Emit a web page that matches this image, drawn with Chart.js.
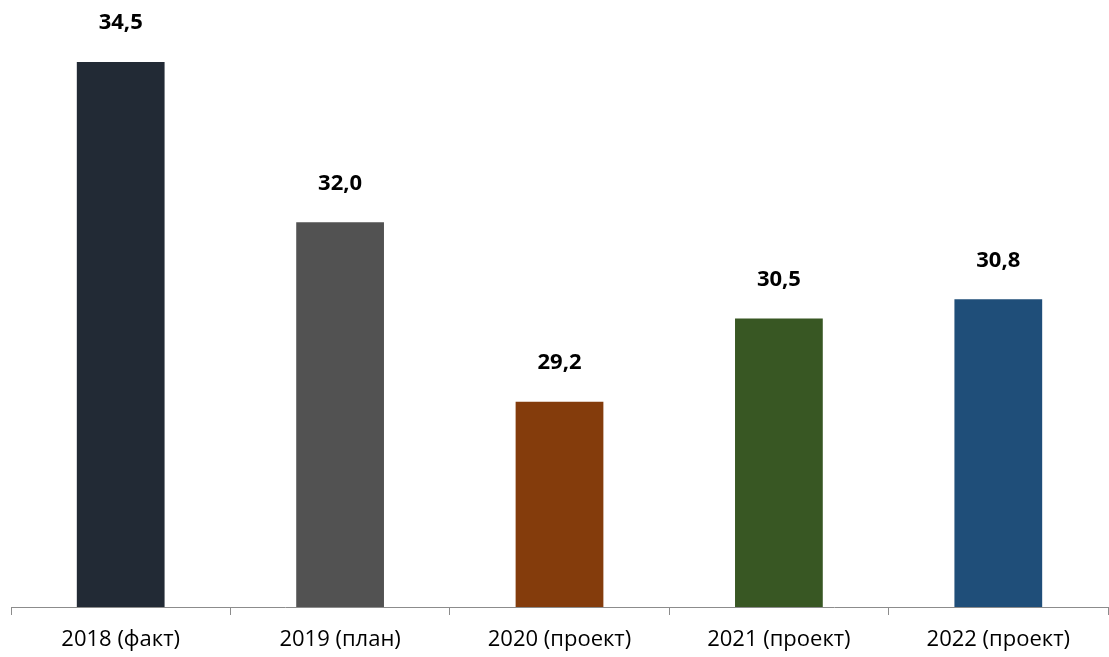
<!DOCTYPE html>
<html>
<head>
<meta charset="utf-8">
<script src="https://cdn.jsdelivr.net/npm/chart.js@4/dist/chart.umd.min.js"></script>
<style>
html,body{margin:0;padding:0;background:#fff;}
#wrap{width:1109px;height:657px;}
</style>
</head>
<body>
<div id="wrap"><canvas id="c" width="1109" height="657"></canvas></div>
<script>
const categories = ["2018 (факт)", "2019 (план)", "2020 (проект)", "2021 (проект)", "2022 (проект)"];
const values = [34.5, 32.0, 29.2, 30.5, 30.8];
const barColors = ["#222a35", "#525252", "#843c0c", "#385723", "#1f4e79"];

const labelPlugin = {
  id: 'valueLabels',
  afterDatasetsDraw(chart) {
    const ctx = chart.ctx;
    const meta = chart.getDatasetMeta(0);
    ctx.save();
    ctx.font = 'bold 22px "Open Sans", sans-serif';
    ctx.fillStyle = '#000';
    ctx.textAlign = 'center';
    ctx.textBaseline = 'middle';
    meta.data.forEach((bar, i) => {
      ctx.fillText(values[i].toFixed(1).replace('.', ','), bar.x, bar.y - 39);
    });
    ctx.restore();
  }
};

new Chart(document.getElementById('c'), {
  type: 'bar',
  data: {
    labels: categories,
    datasets: [{
      data: values,
      backgroundColor: barColors,
      borderWidth: 0,
      barPercentage: 0.4,
      categoryPercentage: 1.0
    }]
  },
  options: {
    responsive: false,
    animation: false,
    layout: { padding: { left: 11, right: 1, top: 30, bottom: 0 } },
    plugins: { legend: { display: false }, tooltip: { enabled: false } },
    scales: {
      x: {
        afterFit: (scale) => { scale.height = 50; },
        grid: { display: true, drawOnChartArea: false, drawTicks: true, tickLength: 8, color: '#8c8c8c', lineWidth: 1, offset: true },
        border: { display: true, color: '#8c8c8c', width: 1 },
        ticks: { color: '#000', font: { family: '"Open Sans", sans-serif', size: 22, lineHeight: 0.85 }, padding: 15, maxRotation: 0 }
      },
      y: {
        display: false,
        min: 26,
        max: 35
      }
    }
  },
  plugins: [labelPlugin]
});
</script>
</body>
</html>
